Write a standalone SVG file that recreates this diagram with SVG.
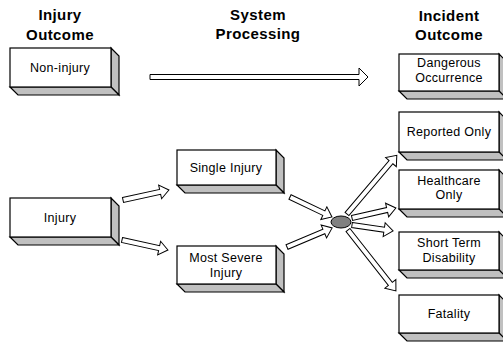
<svg xmlns="http://www.w3.org/2000/svg" width="503" height="343" viewBox="0 0 503 343">
<style>
.face{fill:#fff;stroke:#000;stroke-width:1.2}
.side{fill:#c0c0c0;stroke:#000;stroke-width:1.2;stroke-linejoin:miter}
.lbl{font-family:"Liberation Sans",Arial,sans-serif;font-size:12.5px;fill:#000;text-anchor:middle;letter-spacing:0.3px}
.hdr{font-family:"Liberation Sans",Arial,sans-serif;font-size:15px;font-weight:bold;fill:#000;text-anchor:middle;letter-spacing:0.4px}
.arr{fill:#fff;stroke:#000;stroke-width:1;stroke-linejoin:miter}
</style>
<rect width="503" height="343" fill="#fff"/>
<g id="headers">
<text class="hdr" x="60" y="20">Injury</text>
<text class="hdr" x="60" y="40">Outcome</text>
<text class="hdr" x="258" y="20">System</text>
<text class="hdr" x="258" y="39">Processing</text>
<text class="hdr" x="449" y="21">Incident</text>
<text class="hdr" x="449" y="40">Outcome</text>
</g>
<g id="connectors">
<path class="arr" d="M0,-2.5 H209 V-9 L218,0 L209,9 V2.5 H0 Z" transform="translate(150,77)"/>
<path class="arr" d="M0,-2.5 H38 V-7 L47,0 L38,7 V2.5 H0 Z" transform="translate(123,200) rotate(-12.3)"/>
<path class="arr" d="M0,-2.5 H38 V-7 L47,0 L38,7 V2.5 H0 Z" transform="translate(122,240) rotate(12.3)"/>
<path class="arr" d="M0,-2.5 H37.5 V-7 L46.5,0 L37.5,7 V2.5 H0 Z" transform="translate(290,197) rotate(25.5)"/>
<path class="arr" d="M0,-2.5 H40 V-7 L49,0 L40,7 V2.5 H0 Z" transform="translate(287,247) rotate(-22.9)"/>
<path class="arr" d="M0,-2.5 H68 V-7 L77,0 L68,7 V2.5 H0 Z" transform="translate(347,214) rotate(-49.7)"/>
<path class="arr" d="M0,-2.5 H36 V-7 L45,0 L36,7 V2.5 H0 Z" transform="translate(352,218) rotate(-12.8)"/>
<path class="arr" d="M0,-2.5 H32.5 V-7 L41.5,0 L32.5,7 V2.5 H0 Z" transform="translate(352,225) rotate(8.3)"/>
<path class="arr" d="M0,-2.5 H68.5 V-7 L77.5,0 L68.5,7 V2.5 H0 Z" transform="translate(348,230) rotate(51.8)"/>
<ellipse cx="341" cy="222" rx="10" ry="6" fill="#808080" stroke="#000" stroke-width="1"/>
</g>
<g id="non-injury">
<polygon class="side" points="111,48 119,56 119,95 111,87"/>
<polygon class="side" points="10,87 111,87 119,95 18,95"/>
<rect class="face" x="10" y="48" width="101" height="39"/>
<text class="lbl" x="60" y="72">Non-injury</text>
</g>
<g id="injury">
<polygon class="side" points="111,198 119,206 119,245 111,237"/>
<polygon class="side" points="10,237 111,237 119,245 18,245"/>
<rect class="face" x="10" y="198" width="101" height="39"/>
<text class="lbl" x="60" y="222">Injury</text>
</g>
<g id="single-injury">
<polygon class="side" points="276,150 284,158 284,193 276,185"/>
<polygon class="side" points="177,185 276,185 284,193 185,193"/>
<rect class="face" x="177" y="150" width="99" height="35"/>
<text class="lbl" x="226" y="172">Single Injury</text>
</g>
<g id="most-severe-injury">
<polygon class="side" points="276,246 284,254 284,292 276,284"/>
<polygon class="side" points="177,284 276,284 284,292 185,292"/>
<rect class="face" x="177" y="246" width="99" height="38"/>
<text class="lbl" x="226" y="262">Most Severe</text>
<text class="lbl" x="226" y="277">Injury</text>
</g>
<g id="dangerous-occurrence">
<polygon class="side" points="499,54 507,62 507,99 499,91"/>
<polygon class="side" points="399,91 499,91 507,99 407,99"/>
<rect class="face" x="399" y="54" width="100" height="37"/>
<text class="lbl" x="449" y="67">Dangerous</text>
<text class="lbl" x="449" y="82">Occurrence</text>
</g>
<g id="reported-only">
<polygon class="side" points="499,112 507,120 507,160 499,152"/>
<polygon class="side" points="399,152 499,152 507,160 407,160"/>
<rect class="face" x="399" y="112" width="100" height="40"/>
<text class="lbl" x="449" y="136">Reported Only</text>
</g>
<g id="healthcare-only">
<polygon class="side" points="499,170 507,178 507,217 499,209"/>
<polygon class="side" points="399,209 499,209 507,217 407,217"/>
<rect class="face" x="399" y="170" width="100" height="39"/>
<text class="lbl" x="449" y="185">Healthcare</text>
<text class="lbl" x="449" y="199">Only</text>
</g>
<g id="short-term-disability">
<polygon class="side" points="499,232 507,240 507,278 499,270"/>
<polygon class="side" points="399,270 499,270 507,278 407,278"/>
<rect class="face" x="399" y="232" width="100" height="38"/>
<text class="lbl" x="449" y="247">Short Term</text>
<text class="lbl" x="449" y="262">Disability</text>
</g>
<g id="fatality">
<polygon class="side" points="499,295 507,303 507,341 499,333"/>
<polygon class="side" points="399,333 499,333 507,341 407,341"/>
<rect class="face" x="399" y="295" width="100" height="38"/>
<text class="lbl" x="449" y="318">Fatality</text>
</g>
</svg>
